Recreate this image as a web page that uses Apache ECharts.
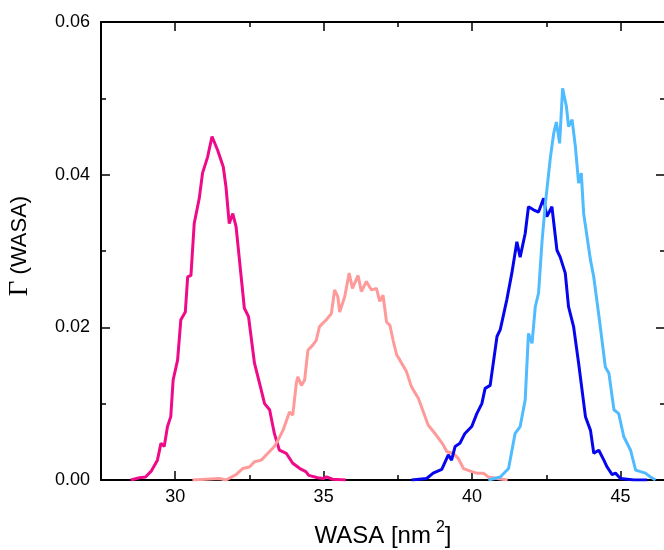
<!DOCTYPE html>
<html>
<head>
<meta charset="utf-8">
<script src="https://cdn.jsdelivr.net/npm/echarts@6/dist/echarts.min.js"></script>
<style>
html,body{margin:0;padding:0;background:#fff;}
#chart{width:664px;height:550px;}
</style>
</head>
<body>
<div id="chart"></div>
<script>
// ---- data ----
var xMajorTicks = [30, 35, 40, 45];
var xMinorTicks = [27.5, 32.5, 37.5, 42.5];
var yMajorTicks = [0, 0.02, 0.04, 0.06];
var yMinorTicks = [0.01, 0.03, 0.05];

var magentaX = [28.5, 28.8, 29.0, 29.2, 29.4, 29.52, 29.63, 29.74, 29.85, 29.93, 30.08, 30.19, 30.34, 30.42, 30.53, 30.64, 30.81, 30.92, 31.09, 31.24, 31.43, 31.62, 31.71, 31.82, 31.94, 32.05, 32.33, 32.47, 32.67, 32.84, 33.01, 33.18, 33.34, 33.51, 33.74, 33.96, 34.2, 34.4, 34.5, 34.8, 35.0, 35.1, 35.3, 35.75];
var magentaY = [0, 0.0003, 0.0004, 0.0012, 0.0026, 0.0048, 0.0044, 0.0070, 0.0083, 0.0131, 0.0157, 0.0210, 0.0220, 0.0266, 0.0268, 0.0336, 0.0369, 0.0402, 0.0423, 0.0450, 0.0432, 0.0410, 0.0384, 0.0336, 0.0349, 0.0332, 0.0225, 0.0214, 0.0153, 0.0127, 0.0100, 0.0092, 0.0061, 0.0039, 0.0035, 0.0022, 0.0015, 0.0011, 0.0006, 0.0003, 0.0002, 0.0004, 0.0001, 0];

var salmonX = [30.58, 31.49, 31.71, 32.05, 32.27, 32.50, 32.67, 32.90, 33.12, 33.34, 33.46, 33.63, 33.85, 33.96, 34.08, 34.13, 34.25, 34.36, 34.47, 34.64, 34.75, 34.86, 35.09, 35.26, 35.37, 35.48, 35.54, 35.71, 35.86, 35.97, 36.16, 36.27, 36.44, 36.61, 36.78, 36.89, 37.00, 37.12, 37.23, 37.34, 37.46, 37.57, 37.79, 37.96, 38.19, 38.36, 38.52, 38.75, 39.03, 39.15, 39.37, 39.54, 39.71, 39.99, 40.16, 40.38, 40.55, 40.85, 41.2];
var salmonY = [0, 0.0002, 0, 0.0007, 0.0015, 0.0017, 0.0024, 0.0026, 0.0035, 0.0044, 0.0052, 0.0065, 0.0089, 0.0085, 0.0127, 0.0135, 0.0124, 0.0131, 0.0170, 0.0177, 0.0183, 0.0201, 0.0210, 0.0218, 0.0249, 0.0240, 0.0220, 0.0240, 0.0271, 0.0251, 0.0268, 0.0247, 0.0260, 0.0249, 0.0251, 0.0234, 0.0242, 0.0207, 0.0203, 0.0183, 0.0164, 0.0157, 0.0142, 0.0122, 0.0107, 0.0089, 0.0072, 0.0061, 0.0046, 0.0037, 0.0035, 0.0028, 0.0015, 0.0011, 0.0009, 0.0009, 0.0004, 0.0002, 0];

var blueX = [37.96, 38.47, 38.69, 38.98, 39.20, 39.31, 39.43, 39.59, 39.76, 39.99, 40.16, 40.33, 40.44, 40.61, 40.84, 40.95, 41.17, 41.34, 41.51, 41.62, 41.79, 41.90, 42.07, 42.24, 42.41, 42.52, 42.69, 42.86, 42.97, 43.14, 43.25, 43.42, 43.59, 43.82, 43.99, 44.10, 44.27, 44.44, 44.55, 44.72, 44.83, 45.0, 45.45, 45.9];
var blueY = [0, 0.0002, 0.0009, 0.0014, 0.0033, 0.0026, 0.0044, 0.0048, 0.0061, 0.0070, 0.0087, 0.0100, 0.0120, 0.0124, 0.0188, 0.0197, 0.0236, 0.0271, 0.0312, 0.0292, 0.0323, 0.0358, 0.0354, 0.0351, 0.0369, 0.0345, 0.0358, 0.0301, 0.0292, 0.0271, 0.0227, 0.0201, 0.0153, 0.0083, 0.0065, 0.0035, 0.0039, 0.0026, 0.0017, 0.0007, 0.0009, 0.0002, 0, 0];

var lightBlueX = [40.55, 40.95, 41.23, 41.45, 41.62, 41.79, 41.90, 42.02, 42.13, 42.24, 42.36, 42.47, 42.64, 42.75, 42.84, 42.95, 43.05, 43.18, 43.25, 43.37, 43.48, 43.59, 43.68, 43.76, 43.99, 44.10, 44.32, 44.49, 44.61, 44.78, 44.94, 45.11, 45.34, 45.51, 45.84, 46.01, 46.18];
var lightBlueY = [0, 0.0004, 0.0015, 0.0061, 0.0070, 0.0105, 0.0192, 0.0179, 0.0227, 0.0245, 0.0314, 0.0362, 0.0423, 0.0454, 0.0469, 0.0441, 0.0513, 0.0489, 0.0463, 0.0472, 0.0437, 0.0389, 0.0402, 0.0349, 0.0288, 0.0266, 0.0201, 0.0148, 0.0140, 0.0092, 0.0087, 0.0057, 0.0039, 0.0013, 0.0009, 0.0004, 0];

function zip(xs, ys) { return xs.map(function (x, i) { return [x, ys[i]]; }); }

var chart = echarts.init(document.getElementById('chart'), null, {renderer: 'canvas'});
var FONT = 'Liberation Sans, Arial, sans-serif';
var lineCol = '#000';

function xAxisDef(pos, ticks, len, showLine, showLabel, extra) {
  var a = {
    type: 'value', position: pos, min: 27.5, max: 46.5, gridIndex: 0,
    axisLine: {show: showLine, onZero: false, lineStyle: {color: lineCol, width: 2}},
    axisTick: {show: true, inside: true, length: len, customValues: ticks, lineStyle: {color: lineCol, width: 1.5}},
    axisLabel: {show: showLabel, customValues: ticks, margin: 8, color: '#000', fontSize: 18, fontFamily: FONT},
    splitLine: {show: false}
  };
  if (extra) for (var k in extra) a[k] = extra[k];
  return a;
}
function yAxisDef(pos, ticks, len, showLine, showLabel) {
  return {
    type: 'value', position: pos, min: 0, max: 0.06, gridIndex: 0,
    axisLine: {show: showLine, onZero: false, lineStyle: {color: lineCol, width: 2}},
    axisTick: {show: true, inside: true, length: len, customValues: ticks, lineStyle: {color: lineCol, width: 1.5}},
    axisLabel: {show: showLabel, customValues: ticks, margin: 11, color: '#000', fontSize: 18, fontFamily: FONT,
      formatter: function (v) { return v.toFixed(2); }},
    splitLine: {show: false}
  };
}

var option = {
  backgroundColor: '#fff',
  animation: false,
  grid: {left: 101, right: -1, top: 22, bottom: 70, containLabel: false, outerBoundsMode: 'none'},
  xAxis: [
    xAxisDef('bottom', xMajorTicks, 9, true, true, {
      name: 'WASA [nm{sup|2}]', nameLocation: 'middle', nameGap: 40,
      nameTextStyle: {color: '#000', fontSize: 24, lineHeight: 32, fontFamily: FONT,
        rich: {sup: {fontSize: 16, lineHeight: 16, verticalAlign: 'top', padding: [0, 0, 0, 5], color: '#000', fontFamily: FONT}}}
    }),
    xAxisDef('bottom', xMinorTicks, 5, false, false),
    xAxisDef('top', xMajorTicks, 9, true, false),
    xAxisDef('top', xMinorTicks, 5, false, false)
  ],
  yAxis: [
    yAxisDef('left', yMajorTicks, 9, true, true),
    yAxisDef('left', yMinorTicks, 5, false, false),
    yAxisDef('right', yMajorTicks, 9, true, false),
    yAxisDef('right', yMinorTicks, 5, false, false)
  ],
  graphic: [{
    type: 'text', x: 20, y: 246, rotation: Math.PI / 2,
    style: {
      text: '{g|Γ} (WASA)', fill: '#000', font: '22px ' + FONT,
      align: 'center', verticalAlign: 'middle',
      rich: {g: {fontFamily: 'Liberation Serif, DejaVu Serif, serif', fontSize: 27, fill: '#000'}}
    }
  }],
  series: [
    {type: 'line', name: 'magenta', data: zip(magentaX, magentaY), showSymbol: false, lineStyle: {color: '#EE0A88', width: 3}, itemStyle: {color: '#EE0A88'}, z: 2},
    {type: 'line', name: 'salmon', data: zip(salmonX, salmonY), showSymbol: false, lineStyle: {color: '#FF9A9A', width: 3}, itemStyle: {color: '#FF9A9A'}, z: 3},
    {type: 'line', name: 'blue', data: zip(blueX, blueY), showSymbol: false, lineStyle: {color: '#0606EE', width: 3}, itemStyle: {color: '#0606EE'}, z: 4},
    {type: 'line', name: 'lightblue', data: zip(lightBlueX, lightBlueY), showSymbol: false, lineStyle: {color: '#50BBFF', width: 3}, itemStyle: {color: '#50BBFF'}, z: 5}
  ]
};
chart.setOption(option);
</script>
</body>
</html>
